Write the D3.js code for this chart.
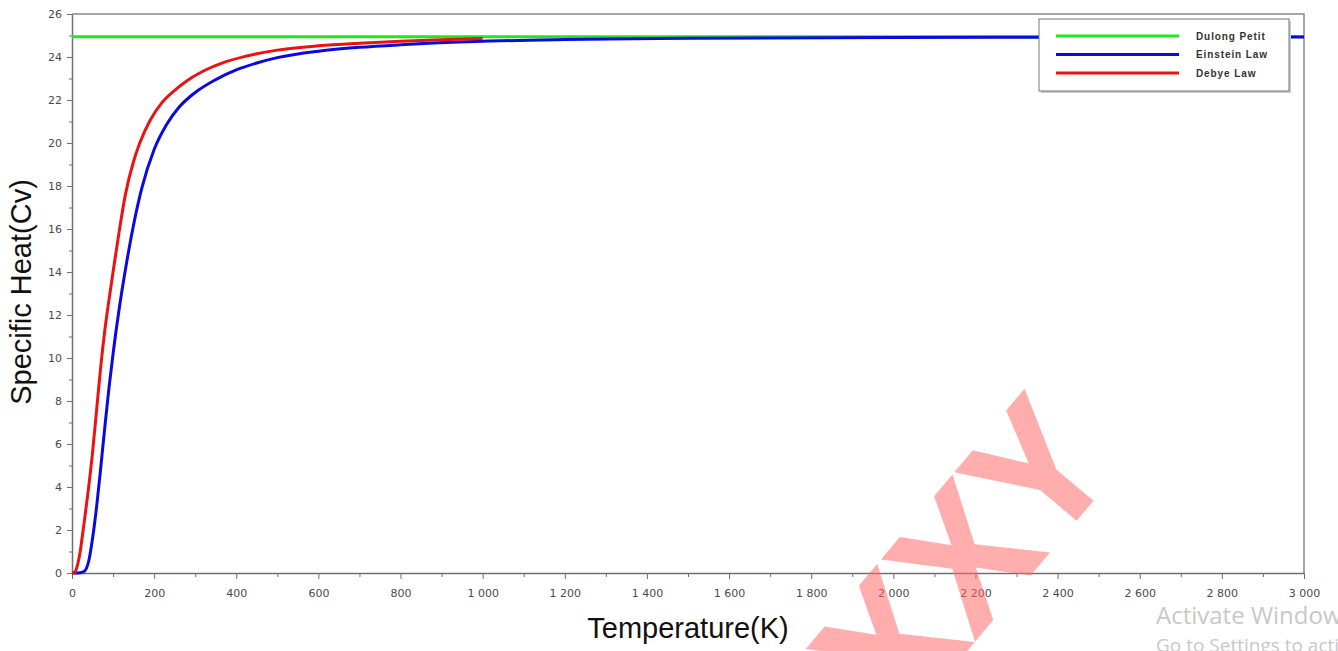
<!DOCTYPE html>
<html>
<body style="margin:0">
    <style>
        body {
            font: 10px "Liberation Sans", Arial, sans-serif;
            background: #fff;
        }
        .axis text { fill: #4a4a4a; font-size: 11px; font-family: "DejaVu Sans", sans-serif; }
        .axis path, .axis line { stroke: #707070; }
    </style>
    <div class="container"></div>

    <script src="https://d3js.org/d3.v7.min.js"></script>

    <script>

// temperatures (K) and Cv
var einsteinT = [0, 10, 20, 30, 40, 50, 60, 70, 80, 90, 100, 115, 130, 150, 170, 200, 230, 260, 300, 350, 400, 450, 500, 600, 700, 800, 1000, 1200, 1500, 2000, 2500, 3000];
var einsteinCv = [0, 0, 0.01, 0.08, 0.5, 1.6, 3.1, 4.9, 6.8, 8.6, 10.2, 12.3, 14.1, 16.2, 17.9, 19.7, 20.85, 21.65, 22.35, 22.95, 23.4, 23.72, 23.97, 24.27, 24.45, 24.57, 24.73, 24.81, 24.87, 24.91, 24.92, 24.93];

var debyeT = [0, 5, 10, 15, 20, 25, 30, 40, 50, 60, 70, 80, 90, 100, 115, 130, 150, 165, 190, 220, 250, 280, 320, 370, 420, 500, 600, 700, 800, 900, 1000];
var debyeCv = [0, 0.02, 0.15, 0.5, 1.0, 1.7, 2.4, 3.9, 5.6, 7.6, 9.6, 11.3, 12.7, 14.0, 15.9, 17.6, 19.15, 20.0, 21.05, 21.9, 22.45, 22.9, 23.35, 23.75, 24.02, 24.32, 24.52, 24.64, 24.73, 24.8, 24.86];

var dulongT = [0, 3000];
var dulongCv = [24.94, 24.94];

var seriesNames = ["Dulong Petit", "Einstein Law", "Debye Law"];
var seriesColors = ["#1ee81e", "#0a0ae0", "#ea1212"];

var xTicks = d3.range(0, 3001, 200);
var yTicks = d3.range(0, 27, 2);

var width = 1338,
    height = 651;

var margin = { left: 72, right: 1304, top: 14, bottom: 573 };

var svg = d3.select("body")
    .append("svg")
    .attr("width", width)
    .attr("height", height);

var x = d3.scaleLinear().domain([0, 3000]).range([margin.left, margin.right]);
var y = d3.scaleLinear().domain([0, 26]).range([margin.bottom, margin.top]);

var fmt = d3.formatLocale({ decimal: ".", thousands: " ", grouping: [3], currency: ["", ""] }).format(",");

// frame top + right
svg.append("path")
    .attr("d", "M" + margin.left + "," + margin.top + "H" + margin.right + "V" + margin.bottom)
    .attr("fill", "none")
    .attr("stroke", "#888")
    .attr("stroke-width", 1.5);

// minor ticks
svg.append("g")
    .attr("class", "axis")
    .attr("transform", "translate(0," + margin.bottom + ")")
    .call(d3.axisBottom(x).tickValues(d3.range(100, 3000, 200)).tickSize(4).tickFormat(""))
    .select(".domain").remove();

svg.append("g")
    .attr("class", "axis")
    .attr("transform", "translate(" + margin.left + ",0)")
    .call(d3.axisLeft(y).tickValues(d3.range(1, 26, 2)).tickSize(3).tickFormat(""))
    .select(".domain").remove();

var xAxis = svg.append("g")
    .attr("class", "axis")
    .attr("transform", "translate(0," + margin.bottom + ")")
    .call(d3.axisBottom(x).tickValues(xTicks).tickSize(6).tickSizeOuter(0).tickPadding(10).tickFormat(fmt));
xAxis.select(".domain").attr("stroke-width", 1.5);

var yAxis = svg.append("g")
    .attr("class", "axis")
    .attr("transform", "translate(" + margin.left + ",0)")
    .call(d3.axisLeft(y).tickValues(yTicks).tickSize(5).tickSizeOuter(0).tickPadding(5));
yAxis.select(".domain").attr("stroke-width", 1.5);

// lines
var line = d3.line()
    .x(function(d) { return x(d[0]); })
    .y(function(d) { return y(d[1]); })
    .curve(d3.curveMonotoneX);

var series = [
    d3.zip(dulongT, dulongCv),
    d3.zip(einsteinT, einsteinCv),
    d3.zip(debyeT, debyeCv)
];

svg.selectAll(".curve")
    .data(series)
  .enter().append("path")
    .attr("class", "curve")
    .attr("d", line)
    .attr("fill", "none")
    .attr("stroke", function(d, i) { return seriesColors[i]; })
    .attr("stroke-width", 3);

// legend
var legend = svg.append("g").attr("transform", "translate(1039,19)");
legend.append("rect")
    .attr("x", 2).attr("y", 2)
    .attr("width", 250).attr("height", 72)
    .attr("fill", "#ccc");
legend.append("rect")
    .attr("width", 250).attr("height", 72)
    .attr("fill", "#fff")
    .attr("stroke", "#777");

var items = legend.selectAll(".item")
    .data(seriesNames)
  .enter().append("g")
    .attr("transform", function(d, i) { return "translate(0," + (17 + i * 18.5) + ")"; });

items.append("line")
    .attr("x1", 17).attr("x2", 140)
    .attr("stroke", function(d, i) { return seriesColors[i]; })
    .attr("stroke-width", 3);

items.append("text")
    .attr("x", 157).attr("dy", "0.35em")
    .attr("fill", "#333")
    .style("font-size", "10px")
    .style("font-weight", "bold")
    .style("letter-spacing", "0.9px")
    .text(function(d) { return d; });

// axis titles
svg.append("text")
    .attr("x", 688)
    .attr("y", 638)
    .attr("text-anchor", "middle")
    .style("font-size", "29px")
    .attr("fill", "#111")
    .text("Temperature(K)");

svg.append("text")
    .attr("transform", "translate(31,292) rotate(-90)")
    .attr("text-anchor", "middle")
    .style("font-size", "29px")
    .attr("fill", "#111")
    .text("Specific Heat(Cv)");

// screen watermarks
svg.append("text")
    .attr("transform", "translate(1010,600) rotate(-50)")
    .attr("text-anchor", "middle")
    .style("font-size", "175px")
    .style("font-weight", "bold")
    .style("font-family", "'Open Sans', sans-serif")
    .attr("fill", "#ff6b6b")
    .attr("opacity", 0.55)
    .text("XXY");

svg.append("text")
    .attr("x", 1156).attr("y", 624)
    .style("font-size", "24px")
    .style("font-family", "'Open Sans', sans-serif")
    .attr("fill", "#c8c8c8")
    .text("Activate Windows");
svg.append("text")
    .attr("x", 1156).attr("y", 652)
    .style("font-size", "19px")
    .style("font-family", "'Open Sans', sans-serif")
    .attr("fill", "#c8c8c8")
    .text("Go to Settings to activate Windows.");

    </script>
</body>
</html>
